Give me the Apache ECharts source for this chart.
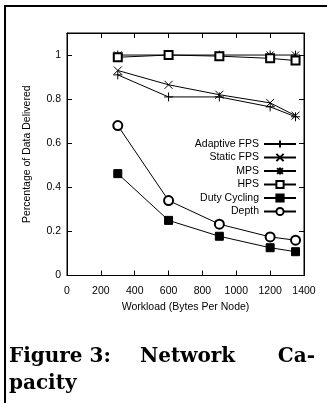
<!DOCTYPE html>
<html>
<head>
<meta charset="utf-8">
<script src="https://cdn.jsdelivr.net/npm/echarts@6/dist/echarts.min.js"></script>
<style>
  html, body { margin: 0; padding: 0; background: #fff; }
  #chart { width: 327px; height: 403px; }
</style>
</head>
<body>
<div id="chart"></div>
<script>
const FONT = "'Liberation Sans Narrow', 'Arial Narrow', 'Liberation Sans', sans-serif";
const FS = 10.5;
const CAPTION_FONT = "bold 20px 'DejaVu Serif'";

// workload (bytes per node)
const workload = [300, 600, 900, 1200, 1350];

// fraction of data delivered
const adaptiveFps = [0.91, 0.81, 0.81, 0.765, 0.72];
const staticFps = [0.93, 0.865, 0.82, 0.783, 0.725];
const mps = [1.0, 1.0, 1.0, 1.0, 1.0];
const hps = [0.99, 1.0, 0.995, 0.985, 0.975];
const dutyCycling = [0.462, 0.25, 0.178, 0.126, 0.108];
const depth = [0.68, 0.34, 0.233, 0.175, 0.16];

const seriesNames = ["Adaptive FPS", "Static FPS", "MPS", "HPS", "Duty Cycling", "Depth"];

const SYM_PLUS = "path://M5,0L5,10M0,5L10,5";
const SYM_X = "path://M0,0L10,10M10,0L0,10";
const SYM_STAR = "path://M5,0L5,10M0,5L10,5M1,1L9,9M9,1L1,9";

function pairs(ys) {
  return workload.map((x, i) => [x, ys[i]]);
}

function makeSeries(name, ys, symbol, size) {
  return {
    name: name,
    type: "line",
    data: pairs(ys),
    symbol: symbol,
    symbolSize: size,
    showAllSymbol: true,
    animation: false,
    lineStyle: { color: "#000", width: 1 },
    itemStyle: { color: "#000", borderColor: "#000", borderWidth: 1 },
    emphasis: { disabled: true },
  };
}

const chart = echarts.init(document.getElementById("chart"));

const axisCommon = {
  axisLine: { show: true, onZero: false, lineStyle: { color: "#000", width: 1 } },
  axisTick: { show: true, inside: true, length: 5, lineStyle: { color: "#000" } },
  splitLine: { show: false },
};

const option = {
  animation: false,
  backgroundColor: "#fff",
  textStyle: { fontFamily: FONT },
  grid: { left: 67, right: 23, top: 33, bottom: 127.5, show: true, borderColor: "#000", borderWidth: 1, backgroundColor: "transparent" },
  legend: {
    orient: "vertical",
    right: 30,
    top: 138,
    padding: 0,
    align: "right",
    itemWidth: 32,
    itemHeight: 9,
    itemGap: 1.5,
    selectedMode: false,
    textStyle: { fontFamily: FONT, fontSize: FS, color: "#000", lineHeight: 12 },
    data: seriesNames,
  },
  xAxis: [
    {
      type: "value",
      min: 0,
      max: 1400,
      interval: 200,
      name: "Workload (Bytes Per Node)",
      nameLocation: "middle",
      nameGap: 23,
      nameTextStyle: { fontFamily: FONT, fontSize: FS, color: "#000" },
      axisLabel: { color: "#000", fontFamily: FONT, fontSize: FS, margin: 10, formatter: (v) => String(v) },
      ...axisCommon,
    },
    {
      type: "value",
      position: "top",
      min: 0,
      max: 1400,
      interval: 200,
      axisLabel: { show: false },
      ...axisCommon,
    },
  ],
  yAxis: [
    {
      type: "value",
      position: "left",
      min: 0,
      max: 1.1,
      interval: 0.2,
      name: "Percentage of Data Delivered",
      nameLocation: "middle",
      nameGap: 34,
      nameTextStyle: { fontFamily: FONT, fontSize: FS, color: "#000" },
      axisLabel: { color: "#000", fontFamily: FONT, fontSize: FS, margin: 6, showMaxLabel: false },
      ...axisCommon,
    },
    {
      type: "value",
      position: "right",
      min: 0,
      max: 1.1,
      interval: 0.2,
      axisLabel: { show: false },
      ...axisCommon,
    },
  ],
  series: [
    makeSeries("Adaptive FPS", adaptiveFps, SYM_PLUS, 9),
    makeSeries("Static FPS", staticFps, SYM_X, 8),
    makeSeries("MPS", mps, SYM_STAR, 9),
    makeSeries("HPS", hps, "emptyRect", 8),
    makeSeries("Duty Cycling", dutyCycling, "rect", 8),
    makeSeries("Depth", depth, "emptyCircle", 9),
    // empty series so the mirrored top/right axes are laid out
    { name: "_mirror", type: "line", data: [], xAxisIndex: 1, yAxisIndex: 1, silent: true },
  ],
  graphic: [
    { type: "rect", shape: { x: 4, y: 5, width: 323, height: 2 }, style: { fill: "#000" }, silent: true },
    { type: "rect", shape: { x: 4, y: 5, width: 2, height: 398 }, style: { fill: "#000" }, silent: true },
    { type: "text", left: 9, top: 346.5, style: { text: "Figure 3:", font: CAPTION_FONT, fill: "#000" }, silent: true },
    { type: "text", left: 140, top: 346.5, style: { text: "Network", font: CAPTION_FONT, fill: "#000" }, silent: true },
    { type: "text", right: 12, top: 346.5, style: { text: "Ca-", font: CAPTION_FONT, fill: "#000" }, silent: true },
    { type: "text", left: 9, top: 373.5, style: { text: "pacity", font: CAPTION_FONT, fill: "#000" }, silent: true },
  ],
};

chart.setOption(option);
</script>
</body>
</html>
